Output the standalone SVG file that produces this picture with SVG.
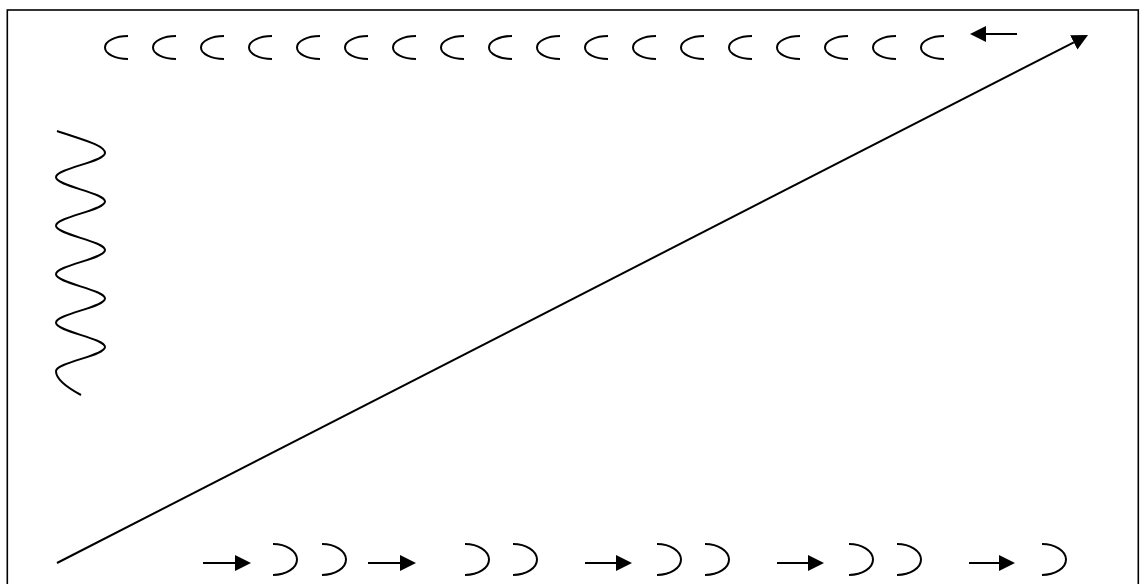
<svg xmlns="http://www.w3.org/2000/svg" width="1140" height="584" viewBox="0 0 1140 584">
<style>
.s{fill:none;stroke:#000;stroke-width:2}
.a{fill:none;stroke:#000;stroke-width:2;marker-end:url(#h)}
</style>
<defs>
<marker id="h" markerUnits="userSpaceOnUse" markerWidth="17" markerHeight="17" refX="0" refY="8" orient="auto"><path d="M0,0 L16,8 L0,16 z" fill="#000"/></marker>
<path id="l" d="M23,0 A23,11.5 0 0 0 23,23" class="s"/>
<path id="r" d="M0,0 A24,15.5 0 0 1 0,31" class="s"/>
</defs>
<rect x="0" y="0" width="1140" height="584" fill="#fff"/>
<rect x="7.3" y="10" width="1131" height="600" fill="none" stroke="#000" stroke-width="1.6"/>
<g id="top-arcs">
<use href="#l" x="105" y="36"/><use href="#l" x="153" y="36"/><use href="#l" x="201" y="36"/><use href="#l" x="249" y="36"/><use href="#l" x="297" y="36"/><use href="#l" x="345" y="36"/><use href="#l" x="393" y="36"/><use href="#l" x="441" y="36"/><use href="#l" x="489" y="36"/><use href="#l" x="537" y="36"/><use href="#l" x="585" y="36"/><use href="#l" x="633" y="36"/><use href="#l" x="681" y="36"/><use href="#l" x="729" y="36"/><use href="#l" x="777" y="36"/><use href="#l" x="825" y="36"/><use href="#l" x="873" y="36"/><use href="#l" x="921" y="36"/>
</g>
<g id="wave">
<path class="s" d="M57,131 C80,139 105,145 105,153 C105,161.8 56,168.5 56,177.25 C56,186 105,192.7 105,201.5 C105,210.3 56,217 56,225.75 C56,234.5 105,241.2 105,250 C105,258.8 56,265.5 56,274.25 C56,283 105,289.7 105,298.5 C105,307.3 56,314 56,322.75 C56,331.5 105,338.2 105,347 C105,355.8 56,362.5 56,371.25 C56,380 68,388 81,395"/>
</g>
<g id="bottom-arcs">
<use href="#r" x="273" y="544"/><use href="#r" x="322" y="544"/><use href="#r" x="465" y="544"/><use href="#r" x="513" y="544"/><use href="#r" x="657" y="544"/><use href="#r" x="705" y="544"/><use href="#r" x="849" y="544"/><use href="#r" x="897" y="544"/><use href="#r" x="1042" y="544"/>
</g>
<g id="connectors">
<line class="a" x1="57" y1="563" x2="1073.8" y2="42.3"/>
<line class="a" x1="1017" y1="34" x2="986" y2="34"/>
<line class="a" x1="203" y1="563" x2="235" y2="563"/>
<line class="a" x1="368" y1="563" x2="400" y2="563"/>
<line class="a" x1="585" y1="563" x2="616" y2="563"/>
<line class="a" x1="777" y1="563" x2="808" y2="563"/>
<line class="a" x1="969" y1="563" x2="999" y2="563"/>
</g>
</svg>
